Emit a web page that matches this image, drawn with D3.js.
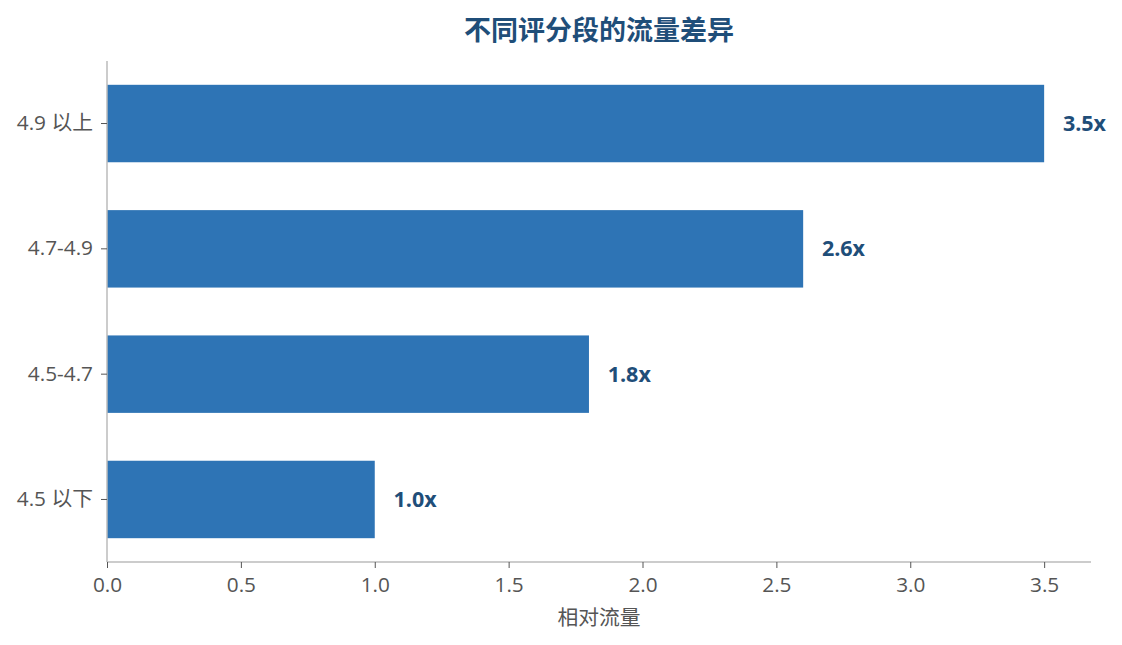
<!DOCTYPE html>
<html>
<head>
<meta charset="utf-8">
<script src="https://cdn.jsdelivr.net/npm/d3@7"></script>
<style>
  body { margin: 0; background: #fff; }
  svg { font-family: "Open Sans", "Noto Sans CJK SC", sans-serif; }
</style>
</head>
<body>
<svg id="chart" width="1122" height="645"></svg>
<script>
// data
const categories = ['4.9 以上', '4.7-4.9', '4.5-4.7', '4.5 以下'];
const flowValues = [3.5, 2.6, 1.8, 1.0];
const valueLabels = ['3.5x', '2.6x', '1.8x', '1.0x'];
const xTicks = [0, 0.5, 1.0, 1.5, 2.0, 2.5, 3.0, 3.5];

const svg = d3.select('#chart');
const WIDTH = 1122, HEIGHT = 645;
const MARGIN = {left: 107, right: 31, top: 61, bottom: 83};
const FS = 20.8;

let xScale = d3.scaleLinear()
    .domain([0, 3.675])
    .range([MARGIN.left, WIDTH - MARGIN.right]);

let yScale = d3.scaleBand()
    .domain(categories)
    .range([MARGIN.top, HEIGHT - MARGIN.bottom])
    .paddingInner(0.382)
    .paddingOuter(0.19);

// title
svg.append('text')
    .attr('x', 599)
    .attr('y', 40)
    .attr('text-anchor', 'middle')
    .attr('font-family', '"Noto Sans CJK SC", sans-serif')
    .attr('font-size', 27)
    .attr('font-weight', 'bold')
    .attr('fill', '#1F4E79')
    .text('不同评分段的流量差异');

// bars
svg.append('g')
    .selectAll('rect')
    .data(flowValues)
    .join('rect')
    .attr('x', xScale(0))
    .attr('y', (d, i) => yScale(categories[i]))
    .attr('width', d => xScale(d) - xScale(0))
    .attr('height', yScale.bandwidth())
    .attr('fill', '#2E74B5');

// value labels
svg.append('g')
    .selectAll('text')
    .data(flowValues)
    .join('text')
    .attr('x', d => xScale(d + 0.07))
    .attr('y', (d, i) => yScale(categories[i]) + yScale.bandwidth() / 2)
    .attr('dy', '0.35em')
    .attr('font-size', 21.5)
    .attr('font-weight', 'bold')
    .attr('fill', '#1F4E79')
    .text((d, i) => valueLabels[i]);

// x axis
let xAxis = svg.append('g')
    .attr('transform', `translate(0,${HEIGHT - MARGIN.bottom})`)
    .call(d3.axisBottom(xScale)
        .tickValues(xTicks)
        .tickFormat(d3.format('.1f'))
        .tickSize(6)
        .tickPadding(9));

// y axis
let yAxis = svg.append('g')
    .attr('transform', `translate(${MARGIN.left},0)`)
    .call(d3.axisLeft(yScale)
        .tickSize(6)
        .tickPadding(8));

[xAxis, yAxis].forEach(ax => {
    ax.select('.domain').attr('stroke', '#bbb').attr('stroke-width', 1.5);
    ax.selectAll('.tick line').attr('stroke', '#555');
    ax.selectAll('.tick text')
        .attr('fill', '#555')
        .attr('font-size', FS)
        .attr('font-family', '"Open Sans", "Noto Sans CJK SC", sans-serif');
});
// plain spines without end ticks
xAxis.select('.domain').attr('d', `M${xScale(0)},0H${xScale(3.675)}`);
yAxis.select('.domain').attr('d', `M0,${MARGIN.top}V${HEIGHT - MARGIN.bottom}`);

// x axis title
svg.append('text')
    .attr('x', (xScale(0) + xScale(3.675)) / 2)
    .attr('y', 625)
    .attr('text-anchor', 'middle')
    .attr('font-family', '"Noto Sans CJK SC", sans-serif')
    .attr('font-size', FS)
    .attr('fill', '#555')
    .text('相对流量');
</script>
</body>
</html>
